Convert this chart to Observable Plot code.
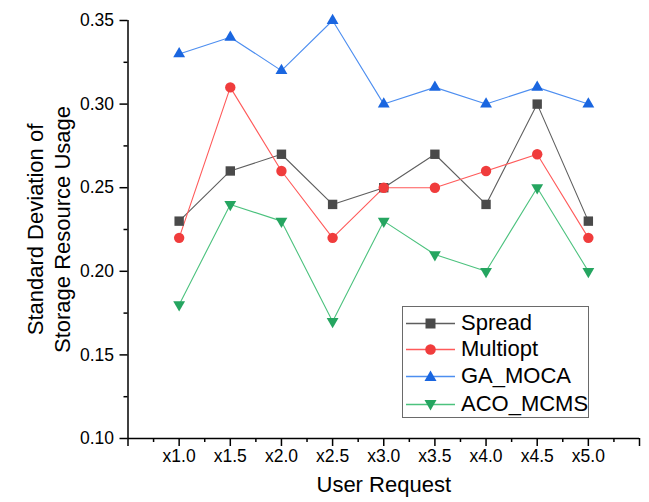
<!DOCTYPE html>
<html><head><meta charset="utf-8">
<script src="https://cdn.jsdelivr.net/npm/d3@7"></script>
<script src="https://cdn.jsdelivr.net/npm/@observablehq/plot@0.6"></script>
<style>
body{margin:0;background:#fff;font-family:"Liberation Sans",Arial,sans-serif;}
#wrap{position:relative;width:649px;height:502px;}
#legend{position:absolute;left:402px;top:306px;width:185px;height:110px;border:1px solid #6a6a6a;background:#fff;}
.row{position:absolute;left:0;height:27px;display:flex;align-items:center;font-size:22px;color:#000;white-space:nowrap;}
.row svg{margin-left:3px;margin-right:6px;}
</style></head><body><div id="wrap"><div id="legend"></div></div>
<script>
const requests = [1.0, 1.5, 2.0, 2.5, 3.0, 3.5, 4.0, 4.5, 5.0];
const requestLabels = ["x1.0","x1.5","x2.0","x2.5","x3.0","x3.5","x4.0","x4.5","x5.0"];
const spread   = [0.23, 0.26, 0.27, 0.24, 0.25, 0.27, 0.24, 0.30, 0.23];
const multiopt = [0.22, 0.31, 0.26, 0.22, 0.25, 0.25, 0.26, 0.27, 0.22];
const gaMoca   = [0.33, 0.34, 0.32, 0.35, 0.30, 0.31, 0.30, 0.31, 0.30];
const acoMcms  = [0.18, 0.24, 0.23, 0.17, 0.23, 0.21, 0.20, 0.25, 0.20];
const xMajor = [0.5, 1.0, 1.5, 2.0, 2.5, 3.0, 3.5, 4.0, 4.5, 5.0, 5.5];
const xMinor = [0.75, 1.25, 1.75, 2.25, 2.75, 3.25, 3.75, 4.25, 4.75, 5.25];
const yMajor = [0.10, 0.15, 0.20, 0.25, 0.30, 0.35];
const yMinor = [0.125, 0.175, 0.225, 0.275, 0.325];

const series = [
  {name: "Spread",   values: spread,   line: "#5e5e5e", fill: "#4a4a4a", symbol: "square",   r: 5.3, rotate: 0},
  {name: "Multiopt", values: multiopt, line: "#ff5a5a", fill: "#f03c3c", symbol: "circle",   r: 5.2, rotate: 0},
  {name: "GA_MOCA",  values: gaMoca,   line: "#4d8ef0", fill: "#1a66e0", symbol: "triangle", r: 4.4, rotate: 0},
  {name: "ACO_MCMS", values: acoMcms,  line: "#4cc27e", fill: "#25a560", symbol: "triangle", r: 4.4, rotate: 180}
];
const rows = series.flatMap(s => s.values.map((v, i) => ({series: s.name, x: requests[i], y: v})));
const labelFor = d => { const i = requests.indexOf(d); return i >= 0 ? requestLabels[i] : ""; };

const marks = [
  Plot.axisY({ticks: yMajor, tickSize: 8, tickPadding: 6, tickFormat: d3.format(".2f"), fontSize: 17.5, strokeWidth: 1.5, label: null}),
  Plot.axisY({ticks: yMinor, tickSize: 4, tickFormat: () => "", strokeWidth: 1.5, label: null}),
  Plot.axisX({ticks: xMajor, tickSize: 8, tickPadding: 3, tickFormat: labelFor, fontSize: 17.5, strokeWidth: 1.5, label: null}),
  Plot.axisX({ticks: xMinor, tickSize: 4, tickFormat: () => "", strokeWidth: 1.5, label: null}),
  Plot.ruleX([0.5], {stroke: "#000", strokeWidth: 1.5}),
  Plot.ruleY([0.10], {stroke: "#000", strokeWidth: 1.5})
];
for (const s of series) {
  const d = rows.filter(r => r.series === s.name);
  marks.push(Plot.line(d, {x: "x", y: "y", stroke: s.line, strokeWidth: 1.1}));
}
for (const s of series) {
  const d = rows.filter(r => r.series === s.name);
  marks.push(Plot.dot(d, {x: "x", y: "y", symbol: s.symbol, fill: s.fill, stroke: "none", r: s.r, rotate: s.rotate}));
}
marks.push(Plot.text(["Standard Deviation of\nStorage Resource Usage"], {frameAnchor: "left", textAnchor: "middle", lineAnchor: "middle", rotate: -90, dx: -80, fontSize: 22, lineHeight: 1.2, fill: "#000"}));
marks.push(Plot.text(["User Request"], {frameAnchor: "bottom", dy: 53, fontSize: 22, fill: "#000"}));

const chart = Plot.plot({
  width: 649, height: 502,
  marginLeft: 127.5, marginRight: 10, marginTop: 20, marginBottom: 64,
  style: {fontFamily: "Liberation Sans, Arial, sans-serif", background: "#fff", color: "#000"},
  x: {domain: [0.5, 5.5], label: null},
  y: {domain: [0.10, 0.35], label: null},
  marks
});
const wrap = document.getElementById("wrap");
wrap.insertBefore(chart, wrap.firstChild);

const legend = document.getElementById("legend");
const rowTops = [2.5, 28.5, 55.5, 83.5];
series.forEach((s, i) => {
  const div = document.createElement("div");
  div.className = "row";
  div.style.top = rowTops[i] + "px";
  let marker;
  if (s.symbol === "square") marker = `<rect x="19.5" y="8.5" width="10" height="10" fill="${s.fill}"/>`;
  else if (s.symbol === "circle") marker = `<circle cx="24.5" cy="13.5" r="5.3" fill="${s.fill}"/>`;
  else if (s.rotate === 0) marker = `<path d="M24.5,7.5 L30.5,18 L18.5,18 Z" fill="${s.fill}"/>`;
  else marker = `<path d="M24.5,19.5 L30.5,9 L18.5,9 Z" fill="${s.fill}"/>`;
  div.innerHTML = `<svg width="49" height="27"><line x1="0" x2="49" y1="13.5" y2="13.5" stroke="${s.line}" stroke-width="1.3"/>${marker}</svg><span>${s.name}</span>`;
  legend.appendChild(div);
});
</script>
</body></html>
